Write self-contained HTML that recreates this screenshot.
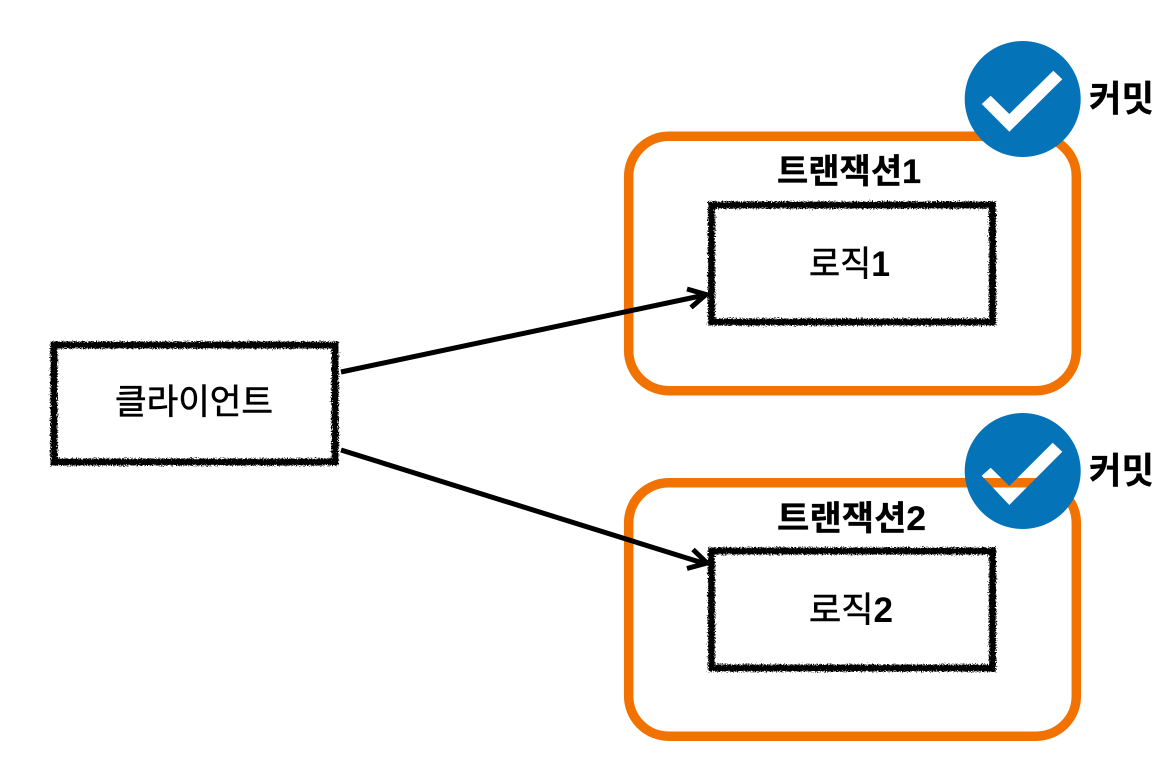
<!DOCTYPE html>
<html><head><meta charset="utf-8">
<style>
html,body{margin:0;padding:0;background:#fff;width:1174px;height:759px;overflow:hidden}
svg{display:block}
text{font-family:"Liberation Sans","Noto Sans CJK KR",sans-serif;fill:#000}
.r{stroke:#000;stroke-width:.6}
.b{stroke:#000;stroke-width:.3}
.d{font-weight:700;stroke-width:0}
</style></head>
<body>
<svg width="1174" height="759" viewBox="0 0 1174 759" xmlns="http://www.w3.org/2000/svg">
<defs>
<filter id="rough" x="-5%" y="-5%" width="110%" height="110%">
<feTurbulence type="fractalNoise" baseFrequency="0.8" numOctaves="2" seed="4" result="n"/>
<feDisplacementMap in="SourceGraphic" in2="n" scale="6" xChannelSelector="R" yChannelSelector="G"/>
</filter>
</defs>
<rect width="1174" height="759" fill="#fff"/>
<rect x="628.700" y="136.300" width="447.600" height="254.400" rx="40" fill="none" stroke="#f27200" stroke-width="9.500"/>
<rect x="628.700" y="482.800" width="447.600" height="253.400" rx="40" fill="none" stroke="#f27200" stroke-width="9.500"/>
<g filter="url(#rough)" fill="none" stroke="#000" stroke-width="7">
<rect x="54" y="345" width="281" height="117"/>
<rect x="711.500" y="205" width="281" height="117"/>
<rect x="711.500" y="551" width="281" height="117"/>
</g>
<g fill="none" stroke="#000" stroke-width="5">
<path d="M341 372L705 295"/>
<path d="M687 289L706 294.500L691 307.500"/>
<path d="M341 450L706 564"/>
<path d="M693 549.500L707 563L687 568.500"/>
</g>
<path fill="#0473b8" fill-rule="evenodd" d="M1022.700 41a58 58 0 1 0 .01 0ZM981.700 104L990.700 95.700L1009.300 114L1053.300 70.700L1062.300 79.300L1009.300 131.700Z"/>
<path fill="#0473b8" fill-rule="evenodd" d="M1022.700 413a58 58 0 1 0 .01 0ZM981.700 475.700L990.700 467.700L1009.300 486L1052.700 442.700L1062.300 451.700L1009.300 505Z"/>
<text class="r" x="115" y="414" font-size="35" textLength="158" lengthAdjust="spacingAndGlyphs">클라이언트</text>
<text class="b" x="777" y="183" font-size="34" font-weight="700" textLength="144" lengthAdjust="spacingAndGlyphs">트랜잭션1</text>
<text class="b" x="777" y="530" font-size="34" font-weight="700" textLength="149" lengthAdjust="spacingAndGlyphs">트랜잭션2</text>
<text class="r" x="809" y="276" font-size="35" textLength="81" lengthAdjust="spacingAndGlyphs">로직<tspan class="d">1</tspan></text>
<text class="r" x="809" y="622" font-size="35" textLength="84" lengthAdjust="spacingAndGlyphs">로직<tspan class="d">2</tspan></text>
<text class="b" x="1089" y="111" font-size="36" font-weight="700" textLength="65" lengthAdjust="spacingAndGlyphs">커밋</text>
<text class="b" x="1089" y="483" font-size="36" font-weight="700" textLength="65" lengthAdjust="spacingAndGlyphs">커밋</text>
</svg>
</body></html>
